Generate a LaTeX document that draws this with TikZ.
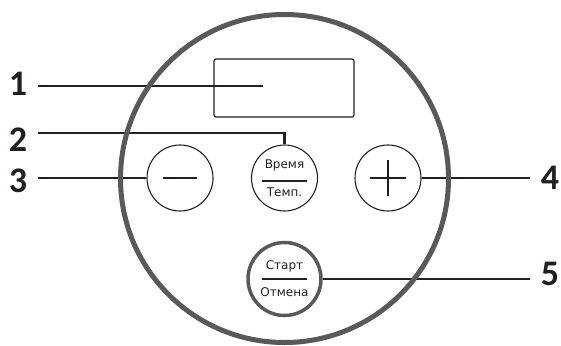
\documentclass[tikz,border=0pt]{standalone}
\usepackage{fontspec}
\setmainfont{DejaVu Sans}
\newfontfamily\numfont{Carlito}
\usetikzlibrary{positioning}

\definecolor{panelGray}{HTML}{58595B}
\definecolor{leadBlack}{HTML}{231F20}

\begin{document}
\begin{tikzpicture}[x=1pt,y=-1pt]
\tikzset{
    panelStyle/.style={circle, draw=panelGray, line width=5pt, minimum size=328pt, inner sep=0pt},
    displayStyle/.style={rectangle, draw=leadBlack, line width=1.2pt, rounded corners=2pt, minimum width=140pt, minimum height=58pt},
    buttonStyle/.style={circle, draw=leadBlack, line width=1.1pt, minimum size=66pt, inner sep=0pt, align=center, text=leadBlack, font=\fontsize{12}{13}\selectfont},
    startStyle/.style={buttonStyle, draw=panelGray, line width=3.5pt, minimum size=73pt},
    numStyle/.style={font=\numfont\bfseries\fontsize{36}{36}\selectfont, text=leadBlack, inner xsep=11pt, inner ysep=0pt},
    leaderLine/.style={draw=leadBlack, line width=2.2pt},
    signLine/.style={draw=leadBlack, line width=1.3pt}
}

\useasboundingbox (0,0) rectangle (561,345);

\node[displayStyle] (display) at (284,88) {};
\coordinate (dispTip) at (263,86);

\node[buttonStyle] (minusBtn) at (180,178) {};
\node[buttonStyle] (timeBtn) at (284.5,178) {Время\\[15pt]Темп.};
\node[buttonStyle] (plusBtn) at (388,178) {};
\node[startStyle] (startBtn) at (284.5,279) {Старт\\[14pt]Отмена};

% signs and dividers
\draw[signLine] ([xshift=-17pt]minusBtn.center) -- ([xshift=17pt]minusBtn.center);
\draw[signLine] ([xshift=-18pt]plusBtn.center) -- ([xshift=18pt]plusBtn.center);
\draw[signLine] ([yshift=-18pt]plusBtn.center) -- ([yshift=18pt]plusBtn.center);
\draw[signLine] ([xshift=-22.5pt,yshift=-3pt]timeBtn.center) -- ([xshift=22.5pt,yshift=-3pt]timeBtn.center);
\draw[signLine] ([xshift=-22.5pt]startBtn.center) -- ([xshift=22.5pt]startBtn.center);

\node[numStyle] (num1) at (18,84) {1};
\node[numStyle] (num2) at (18,140) {2};
\node[numStyle] (num3) at (18,181) {3};
\node[numStyle] (num4) at (550,177.5) {4};
\node[numStyle] (num5) at (550,273.5) {5};

\draw[leaderLine] (num1.east |- dispTip) -- (dispTip);
\draw[leaderLine] ([yshift=7pt]num2.east) -| (timeBtn.north);
\draw[leaderLine] (num3.east |- minusBtn.west) -- (minusBtn.west);
\draw[leaderLine] (plusBtn.east) -- (plusBtn.east -| num4.west);
\draw[leaderLine] (startBtn.east) -- (startBtn.east -| num5.west);

\node[panelStyle] (panel) at (284.5,178.5) {};

\end{tikzpicture}
\end{document}
